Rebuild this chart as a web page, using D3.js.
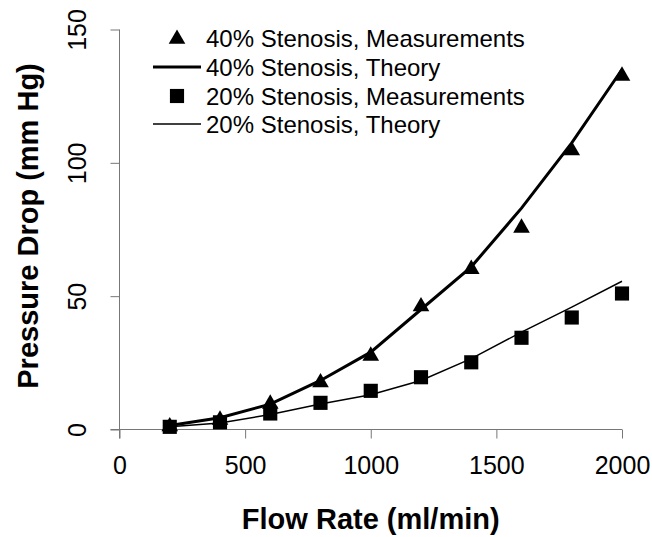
<!DOCTYPE html>
<html>
<head>
<meta charset="utf-8">
<script src="https://cdn.jsdelivr.net/npm/d3@7"></script>
<style>
  body { margin: 0; background: #fff; }
  svg { display: block; font-family: "Liberation Sans", Arial, sans-serif; }
</style>
</head>
<body>
<svg id="chart" width="652" height="537"></svg>
<script>
  // flow rate (ml/min)
  var flowRates = [200, 400, 600, 800, 1000, 1200, 1400, 1600, 1800, 2000];
  // pressure drop (mm Hg)
  var meas40 = [1.5, 4, 10, 18, 28, 46.5, 60.5, 76, 105, 133];
  var theory40 = [1.5, 4.4, 9.5, 18.4, 29, 45, 61, 83, 107.5, 135];
  var meas20 = [1, 2.7, 6, 10, 14.5, 19.6, 25.2, 34.4, 42, 51];
  var theory20 = [1, 2.4, 5.6, 9.6, 13, 18.4, 26.6, 36.5, 45.9, 55.6];
  var xTicks = [0, 500, 1000, 1500, 2000];
  var yTicks = [0, 50, 100, 150];
  var legendLabels = [
    "40% Stenosis, Measurements",
    "40% Stenosis, Theory",
    "20% Stenosis, Measurements",
    "20% Stenosis, Theory"
  ];

  var svg = d3.select("svg");

  var x = d3.scaleLinear().domain([0, 2000]).range([119.5, 622]),
    y = d3.scaleLinear().domain([0, 150]).range([429.5, 29.5]);

  var axisColor = "#777";

  // x axis (Excel style, ticks outside, crossing at y=0)
  var gx = svg.append("g")
    .attr("transform", "translate(0," + y(0) + ")")
    .call(d3.axisBottom(x).tickValues(xTicks).tickSize(9).tickSizeOuter(0).tickFormat(d3.format("d")));
  gx.select(".domain").attr("stroke", axisColor).attr("d", "M" + (x(0) - 9) + ",0H" + x(2000));
  gx.selectAll(".tick line").attr("stroke", axisColor);
  gx.selectAll(".tick text")
    .attr("y", 44)
    .attr("dy", 0)
    .attr("fill", "#000")
    .style("font-size", "25px");

  // y axis with rotated tick labels
  var gy = svg.append("g")
    .attr("transform", "translate(" + x(0) + ",0)")
    .call(d3.axisLeft(y).tickValues(yTicks).tickSize(9).tickSizeOuter(0));
  gy.select(".domain").attr("stroke", axisColor).attr("d", "M0," + y(150) + "V" + (y(0) + 9));
  gy.selectAll(".tick line").attr("stroke", axisColor);
  gy.selectAll(".tick text")
    .attr("x", null)
    .attr("dy", null)
    .attr("text-anchor", "middle")
    .attr("transform", "translate(-34,0) rotate(-90)")
    .attr("fill", "#000")
    .style("font-size", "25px");

  // axis titles
  svg.append("text")
    .attr("x", (x(0) + x(2000)) / 2)
    .attr("y", 529)
    .attr("text-anchor", "middle")
    .style("font-size", "29px")
    .style("font-weight", "bold")
    .text("Flow Rate (ml/min)");

  svg.append("text")
    .attr("transform", "translate(38,226) rotate(-90)")
    .attr("text-anchor", "middle")
    .style("font-size", "29px")
    .style("font-weight", "bold")
    .text("Pressure Drop (mm Hg)");

  // theory curves
  var line = function (vals) {
    return d3.line()
      .x(function (d, i) { return x(flowRates[i]); })
      .y(function (d) { return y(d); })(vals);
  };

  svg.append("path")
    .attr("d", line(theory20))
    .attr("fill", "none")
    .attr("stroke", "#000")
    .attr("stroke-width", 1.5);

  svg.append("path")
    .attr("d", line(theory40))
    .attr("fill", "none")
    .attr("stroke", "#000")
    .attr("stroke-width", 3);

  var tri = d3.symbol().type(d3.symbolTriangle).size(120);
  var sq = d3.symbol().type(d3.symbolSquare).size(200);

  svg.selectAll(".m20")
    .data(meas20)
    .enter()
    .append("path")
    .attr("class", "m20")
    .attr("d", sq())
    .attr("transform", function (d, i) {
      return "translate(" + x(flowRates[i]) + "," + y(d) + ")";
    });

  svg.selectAll(".m40")
    .data(meas40)
    .enter()
    .append("path")
    .attr("class", "m40")
    .attr("d", tri())
    .attr("transform", function (d, i) {
      return "translate(" + x(flowRates[i]) + "," + (y(d) + 1) + ")";
    });

  // legend
  var legend = svg.append("g");
  var rowY = [38, 67, 96, 124];

  legendLabels.forEach(function (label, i) {
    var ry = rowY[i];
    if (i === 0) {
      legend.append("path").attr("d", tri()).attr("transform", "translate(177," + (ry + 1) + ")");
    } else if (i === 2) {
      legend.append("path").attr("d", sq()).attr("transform", "translate(177," + ry + ")");
    } else {
      legend.append("line")
        .attr("x1", 153).attr("x2", 201)
        .attr("y1", ry).attr("y2", ry)
        .attr("stroke", "#000")
        .attr("stroke-width", i === 1 ? 3 : 1.5);
    }
    legend.append("text")
      .attr("x", 206)
      .attr("y", ry + 9)
      .style("font-size", "24px")
      .text(label);
  });
</script>
</body>
</html>
